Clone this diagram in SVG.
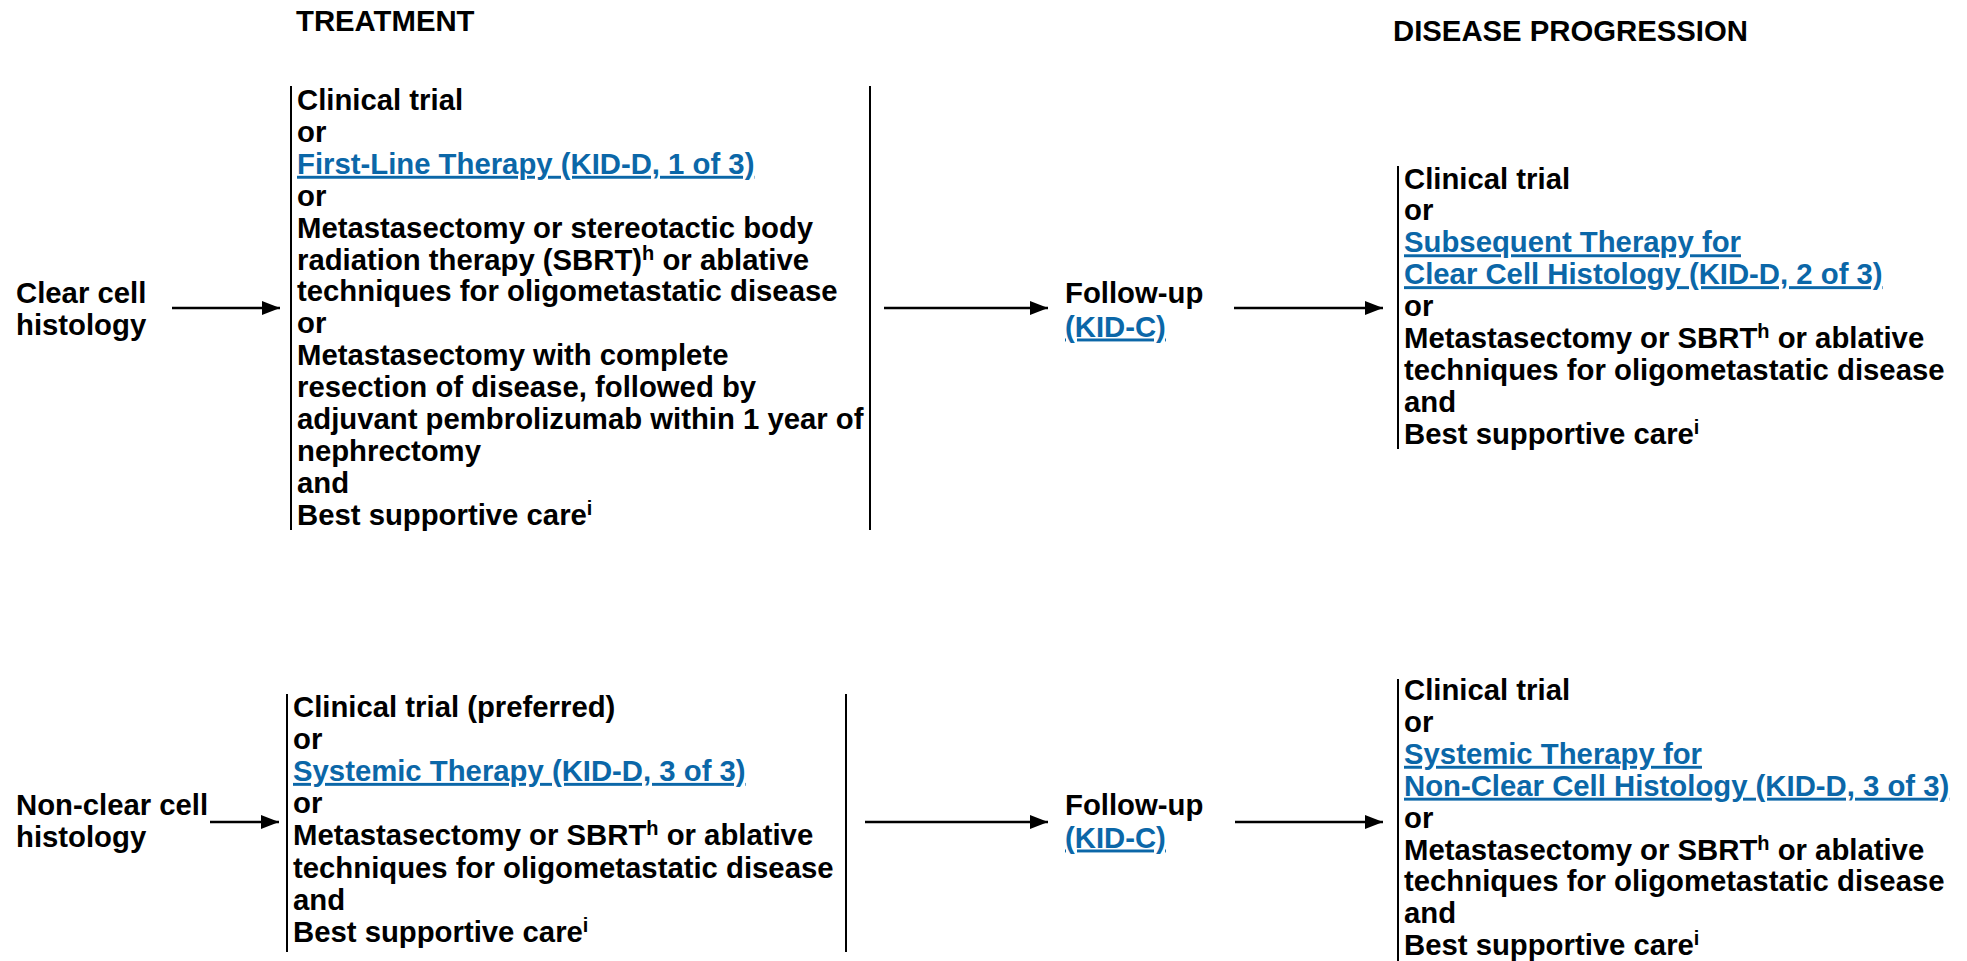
<svg xmlns="http://www.w3.org/2000/svg" width="1967" height="961" viewBox="0 0 1967 961">
<style>
text{font-family:"Liberation Sans",Arial,Helvetica,sans-serif;font-weight:bold;font-size:29.3px;fill:#000}
.link{fill:#0b67a8;text-decoration:underline}
.sup{font-size:20px}
.bar{stroke:#000;stroke-width:2;fill:none}
.conn{stroke:#000;stroke-width:2.6;fill:none;marker-end:url(#ah)}
</style>
<defs>
<marker id="ah" viewBox="0 0 18 14" refX="18" refY="7" markerWidth="18" markerHeight="14" markerUnits="userSpaceOnUse" orient="auto">
<path d="M0,0 L18,7 L0,14 z" fill="#000"/>
</marker>
</defs>
<rect width="1967" height="961" fill="#fff"/>
<g id="header-treatment"><text x="296" y="31">TREATMENT</text></g>
<g id="header-progression"><text x="1393" y="41">DISEASE PROGRESSION</text></g>

<g id="clear-cell">
<text x="16" y="303">Clear cell</text>
<text x="16" y="334.5">histology</text>
</g>

<g id="clear-treatment">
<line class="bar" x1="291" y1="86" x2="291" y2="530"/>
<line class="bar" x1="870" y1="86" x2="870" y2="530"/>
<text x="297" y="110">Clinical trial</text>
<text x="297" y="141.9">or</text>
<text x="297" y="173.8" class="link">First-Line Therapy (KID-D, 1 of 3)</text>
<text x="297" y="205.7">or</text>
<text x="297" y="237.6">Metastasectomy or stereotactic body</text>
<text x="297" y="269.5">radiation therapy (SBRT)<tspan class="sup" dy="-9.5">h</tspan><tspan dy="9.5"> or ablative</tspan></text>
<text x="297" y="301.4">techniques for oligometastatic disease</text>
<text x="297" y="333.3">or</text>
<text x="297" y="365.2">Metastasectomy with complete</text>
<text x="297" y="397.1">resection of disease, followed by</text>
<text x="297" y="429">adjuvant pembrolizumab within 1 year of</text>
<text x="297" y="460.9">nephrectomy</text>
<text x="297" y="492.8">and</text>
<text x="297" y="524.7">Best supportive care<tspan class="sup" dy="-10">i</tspan></text>
</g>

<g id="clear-followup">
<text x="1065" y="303">Follow-up</text>
<text x="1065" y="336.5" class="link">(KID-C)</text>
</g>

<g id="clear-progression">
<line class="bar" x1="1398" y1="166" x2="1398" y2="449"/>
<text x="1404" y="188.5">Clinical trial</text>
<text x="1404" y="220.4">or</text>
<text x="1404" y="252.3" class="link">Subsequent Therapy for</text>
<text x="1404" y="284.2" class="link">Clear Cell Histology (KID-D, 2 of 3)</text>
<text x="1404" y="316.1">or</text>
<text x="1404" y="348">Metastasectomy or SBRT<tspan class="sup" dy="-10">h</tspan><tspan dy="10"> or ablative</tspan></text>
<text x="1404" y="379.9">techniques for oligometastatic disease</text>
<text x="1404" y="411.8">and</text>
<text x="1404" y="443.7">Best supportive care<tspan class="sup" dy="-10">i</tspan></text>
</g>

<g id="nonclear-cell">
<text x="16" y="815">Non-clear cell</text>
<text x="16" y="847">histology</text>
</g>

<g id="nonclear-treatment">
<line class="bar" x1="287" y1="694" x2="287" y2="952"/>
<line class="bar" x1="846" y1="694" x2="846" y2="952"/>
<text x="293" y="716.5">Clinical trial (preferred)</text>
<text x="293" y="748.7">or</text>
<text x="293" y="780.9" class="link">Systemic Therapy (KID-D, 3 of 3)</text>
<text x="293" y="813.1">or</text>
<text x="293" y="845.3">Metastasectomy or SBRT<tspan class="sup" dy="-10">h</tspan><tspan dy="10"> or ablative</tspan></text>
<text x="293" y="877.5">techniques for oligometastatic disease</text>
<text x="293" y="909.7">and</text>
<text x="293" y="941.9">Best supportive care<tspan class="sup" dy="-10">i</tspan></text>
</g>

<g id="nonclear-followup">
<text x="1065" y="815">Follow-up</text>
<text x="1065" y="847.5" class="link">(KID-C)</text>
</g>

<g id="nonclear-progression">
<line class="bar" x1="1398" y1="679" x2="1398" y2="961"/>
<text x="1404" y="700">Clinical trial</text>
<text x="1404" y="731.9">or</text>
<text x="1404" y="763.8" class="link">Systemic Therapy for</text>
<text x="1404" y="795.7" class="link">Non-Clear Cell Histology (KID-D, 3 of 3)</text>
<text x="1404" y="827.6">or</text>
<text x="1404" y="859.5">Metastasectomy or SBRT<tspan class="sup" dy="-10">h</tspan><tspan dy="10"> or ablative</tspan></text>
<text x="1404" y="891.4">techniques for oligometastatic disease</text>
<text x="1404" y="923.3">and</text>
<text x="1404" y="955.2">Best supportive care<tspan class="sup" dy="-10">i</tspan></text>
</g>

<g id="connectors">
<line class="conn" x1="172" y1="308" x2="280" y2="308"/>
<line class="conn" x1="884" y1="308" x2="1048" y2="308"/>
<line class="conn" x1="1234" y1="308" x2="1383" y2="308"/>
<line class="conn" x1="210" y1="822" x2="279" y2="822"/>
<line class="conn" x1="865" y1="822" x2="1048" y2="822"/>
<line class="conn" x1="1235" y1="822" x2="1383" y2="822"/>
</g>
</svg>
